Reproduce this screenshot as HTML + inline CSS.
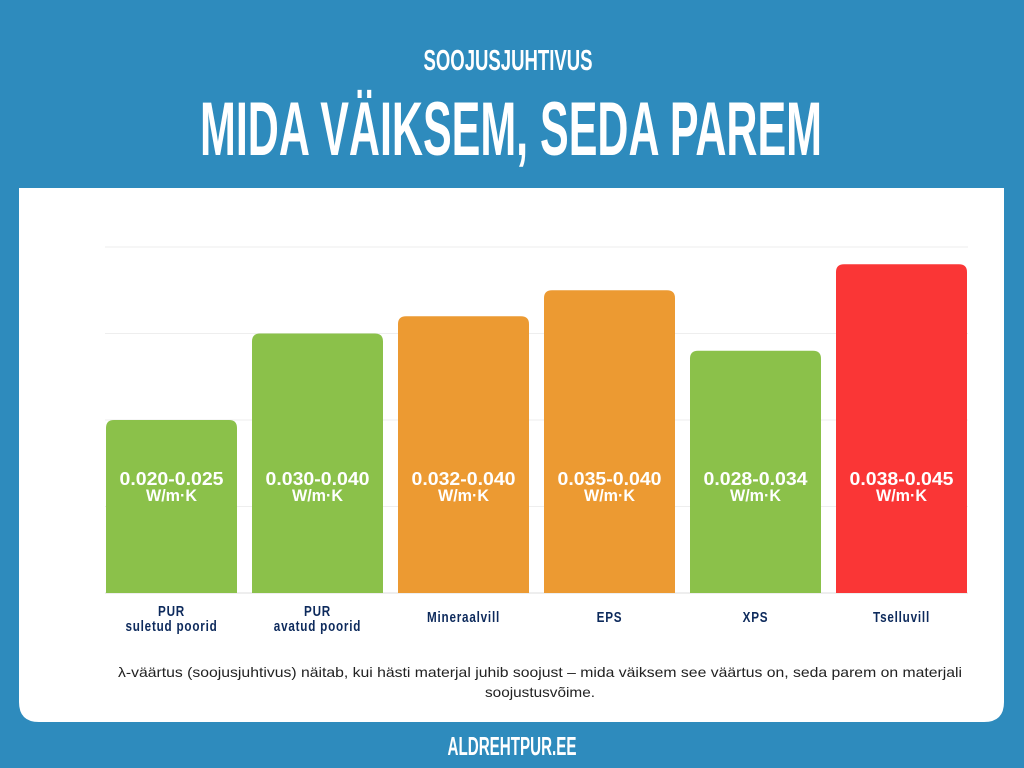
<!DOCTYPE html>
<html><head><meta charset="utf-8"><style>
html,body{margin:0;padding:0;width:1024px;height:768px;overflow:hidden;background:#2E8BBD;font-family:"Liberation Sans",sans-serif}
svg{display:block}
</style></head><body>
<svg id="s" width="1024" height="768" viewBox="0 0 1024 768">
<rect x="0" y="0" width="1024" height="768" fill="#2E8BBD"/>
<text x="508" y="70" text-anchor="middle" fill="#fff" font-family="'Liberation Sans Narrow','Liberation Sans',sans-serif" font-weight="bold" font-size="29" textLength="169" lengthAdjust="spacingAndGlyphs">SOOJUSJUHTIVUS</text>
<text x="511" y="155" text-anchor="middle" fill="#fff" font-family="'Liberation Sans Narrow','Liberation Sans',sans-serif" font-weight="bold" font-size="76" textLength="622" lengthAdjust="spacingAndGlyphs">MIDA VÄIKSEM, SEDA PAREM</text>
<path d="M19 188 H1004 V702 Q1004 722 984 722 H39 Q19 722 19 702 Z" fill="#fff"/>
<g id="grid"></g>
<g id="bars"></g>
<g id="cats" transform="scale(0.78,1)"></g>
<text x="540" y="677" text-anchor="middle" fill="#222" font-size="14" textLength="844" lengthAdjust="spacingAndGlyphs">λ-väärtus (soojusjuhtivus) näitab, kui hästi materjal juhib soojust – mida väiksem see väärtus on, seda parem on materjali</text>
<text x="540" y="697" text-anchor="middle" fill="#222" font-size="14" textLength="110" lengthAdjust="spacingAndGlyphs">soojustusvõime.</text>
<text x="512" y="755" text-anchor="middle" fill="#fff" font-family="'Liberation Sans Narrow','Liberation Sans',sans-serif" font-weight="bold" font-size="26" textLength="129" lengthAdjust="spacingAndGlyphs">ALDREHTPUR.EE</text>
</svg>
<script>
const categories=[["PUR","suletud poorid"],["PUR","avatud poorid"],["Mineraalvill"],["EPS"],["XPS"],["Tselluvill"]];
const values=[2.0,3.0,3.2,3.5,2.8,3.8];
const valueLabels=["0.020-0.025","0.030-0.040","0.032-0.040","0.035-0.040","0.028-0.034","0.038-0.045"];
const colors=["#8BC14A","#8BC14A","#EC9A32","#EC9A32","#8BC14A","#FA3636"];
const gridTicks=[0,1,2,3,4];
const NS="http://www.w3.org/2000/svg";
const gx0=105,gx1=968,bx0=98.5,bx1=974.5,yBase=593,yTop=247,maxV=4,sx=0.78;
const y=v=>yBase-(v/maxV)*(yBase-yTop);
const step=(bx1-bx0)/categories.length, bw=131;
const xc=i=>bx0+step*i+step/2;
function mk(t,a,p){const e=document.createElementNS(NS,t);for(const k in a)e.setAttribute(k,a[k]);p.appendChild(e);return e;}
const g=document.getElementById('grid');
gridTicks.forEach(t=>{
 const l=mk('line',{x1:gx0,x2:gx1,y1:y(t),y2:y(t),stroke:t===0?'#ddd':'#eee','stroke-width':1},g);
 
 
});
const b=document.getElementById('bars');
const cg=document.getElementById('cats');
values.forEach((v,i)=>{
 const L=xc(i)-bw/2,T=y(v),r=8;
 const p=mk('path',{d:`M${L} ${yBase} V${T+r} Q${L} ${T} ${L+r} ${T} H${L+bw-r} Q${L+bw} ${T} ${L+bw} ${T+r} V${yBase} Z`,fill:colors[i]},b);
 
 
 const t1=mk('text',{x:xc(i),y:485,'text-anchor':'middle',fill:'#fff','font-weight':'bold','font-size':18,textLength:104,lengthAdjust:'spacingAndGlyphs'},b);
 t1.textContent=valueLabels[i];
 
 
 const t2=mk('text',{x:xc(i),y:501,'text-anchor':'middle',fill:'#fff','font-weight':'bold','font-size':17,textLength:51,lengthAdjust:'spacingAndGlyphs'},b);
 t2.textContent="W/m·K";
 
 
 const c=categories[i];
 c.forEach((s,j)=>{
  const yy=c.length===1?622:(j===0?616:631);
  const t=mk('text',{x:xc(i)/sx,y:yy,'text-anchor':'middle',fill:'#0D2A5C','font-weight':'bold','font-size':15,'letter-spacing':1},cg);
  t.textContent=s;
  
  
 });
});
</script>
</body></html>
